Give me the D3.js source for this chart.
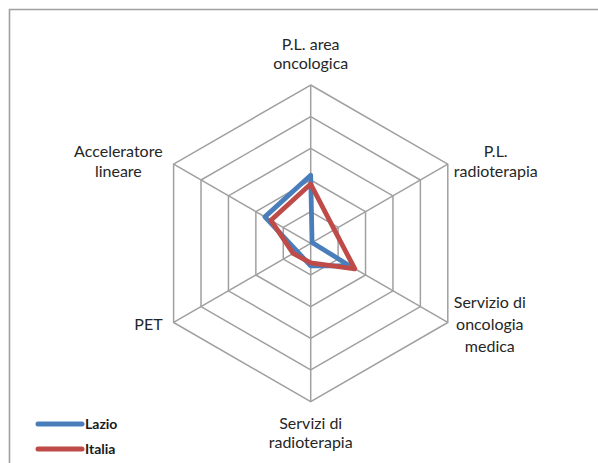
<!DOCTYPE html>
<html>
<head>
<meta charset="utf-8">
<script src="https://cdn.jsdelivr.net/npm/d3@7"></script>
<style>
  html, body { margin: 0; padding: 0; background: #fff; }
  svg { display: block; font-family: Lato, "Liberation Sans", sans-serif; }
</style>
</head>
<body>
<svg id="chart" width="598" height="463"></svg>
<script>
/* ───────────── DATA ───────────── */
const categories = [
  "P.L. area oncologica",
  "P.L. radioterapia",
  "Servizio di oncologia medica",
  "Servizi di radioterapia",
  "PET",
  "Acceleratore lineare"
];
// how each category label wraps on the chart
const labelLines = [
  ["P.L. area", "oncologica"],
  ["P.L.", "radioterapia"],
  ["Servizio di", "oncologia", "medica"],
  ["Servizi di", "radioterapia"],
  ["PET"],
  ["Acceleratore", "lineare"]
];
const lazio  = [2.15, 0.05, 1.43, 0.71, 0.5, 1.67];
const italia = [1.87, 0.86, 1.61, 0.62, 0.64, 1.45];
const gridLevels = [1, 2, 3, 4, 5];

const series = [
  { name: "Lazio",  values: lazio,  color: "#4a7ebb" },
  { name: "Italia", values: italia, color: "#be4b48" }
];

/* ───────────── LAYOUT ───────────── */
const svg = d3.select("#chart");
const cx = 310.7, cy = 243.3, R = 158.3;
const n = categories.length;

const r = d3.scaleLinear().domain([0, d3.max(gridLevels)]).range([0, R]);
const ang = d3.scaleLinear().domain([0, n]).range([0, 2 * Math.PI]);

const g = svg.append("g").attr("transform", `translate(${cx},${cy})`);

// outer frame (only top and left edges visible)
svg.append("path")
   .attr("d", "M9.5,463V9.5H598")
   .attr("fill", "none")
   .attr("stroke", "#a0a0a0")
   .attr("stroke-width", 1.6);

/* grid rings */
const ring = d3.lineRadial()
               .angle((d, i) => ang(i))
               .radius(d => r(d))
               .curve(d3.curveLinearClosed);

gridLevels.forEach(lv => {
  g.append("path")
   .attr("d", ring(categories.map(() => lv)))
   .attr("fill", "none")
   .attr("stroke", "#a0a0a0")
   .attr("stroke-width", 1.5);
});

/* spokes */
categories.forEach((c, i) => {
  const a = ang(i);
  g.append("line")
   .attr("x1", 0).attr("y1", 0)
   .attr("x2", r(d3.max(gridLevels)) * Math.sin(a))
   .attr("y2", -r(d3.max(gridLevels)) * Math.cos(a))
   .attr("stroke", "#a0a0a0")
   .attr("stroke-width", 1.5);
});

/* series */
series.forEach(s => {
  g.append("path")
   .attr("d", ring(s.values))
   .attr("fill", "none")
   .attr("stroke", s.color)
   .attr("stroke-width", 4.8)
   .attr("stroke-linejoin", "round");
});

/* category labels */
const labelG = g.append("g")
                .attr("fill", "#262626")
                .style("font-size", "16px");

labelLines.forEach((lines, i) => {
  const a = ang(i);
  const vx = r(d3.max(gridLevels)) * Math.sin(a);
  const vy = -r(d3.max(gridLevels)) * Math.cos(a);
  const sx = Math.sin(a);
  const lh = lines.length > 2 ? 22 : 19.5;

  const t = labelG.append("text").attr("text-anchor", "middle");
  const spans = lines.map(l => t.append("tspan").text(l));
  const w = d3.max(spans, sp => sp.node().getComputedTextLength());

  let x, y0;
  if (Math.abs(sx) < 0.01) {
    x = 0;
    y0 = vy < 0 ? vy - 16 - (lines.length - 1) * lh : vy + 27;
  } else {
    x = sx > 0 ? vx + 6 + w / 2 : vx - 11 - w / 2;
    y0 = vy - (lines.length - 1) * lh / 2 + (vy < 0 ? 3 : 8);
  }
  spans.forEach((sp, k) => sp.attr("x", x).attr("y", y0 + k * lh));
});

/* legend */
const legend = svg.append("g");
series.forEach((s, i) => {
  const y = 424 + i * 25;
  legend.append("line")
        .attr("x1", 38).attr("x2", 82)
        .attr("y1", y).attr("y2", y)
        .attr("stroke", s.color)
        .attr("stroke-width", 5)
        .attr("stroke-linecap", "round");
  legend.append("text")
        .attr("x", 85).attr("y", y + 5)
        .attr("fill", "#1a1a1a")
        .style("font-size", "14px")
        .style("font-weight", "bold")
        .text(s.name);
});
</script>
</body>
</html>
